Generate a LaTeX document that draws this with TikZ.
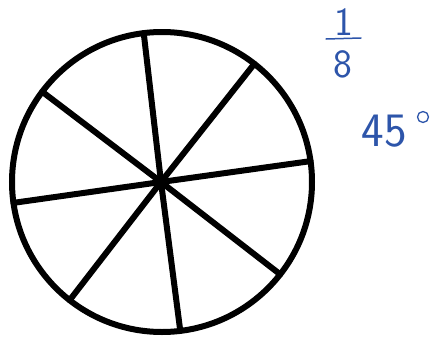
\documentclass[tikz,border=0pt]{standalone}
\usepackage{tikz}
\definecolor{ink}{RGB}{45,85,170}

\begin{document}
\begin{tikzpicture}[x=1pt,y=-1pt,line cap=round]
	\tikzstyle{rand}=[circle,draw,line width=6pt,minimum size=300pt,inner sep=0pt,outer sep=0pt];
	\tikzstyle{speiche}=[line width=6pt];
	\tikzstyle{schrift}=[ink,inner sep=0pt,font=\sffamily\fontsize{40}{40}\selectfont];
	\useasboundingbox (0,0) rectangle (432,338);
	%% wheel
	\coordinate (M) at (161,182);
	\node[rand] (K) at (162,182) {};
	\draw[speiche] (M) -- (K.97);
	\draw[speiche] (M) -- (K.52);
	\draw[speiche] (M) -- (K.8);
	\draw[speiche] (M) -- (K.-38);
	\draw[speiche] (M) -- (K.-83);
	\draw[speiche] (M) -- (K.-128);
	\draw[speiche] (M) -- (K.188);
	\draw[speiche] (M) -- (K.143);
	%% notes
	\node[schrift] (eins) at (344,22) {1};
	\node[schrift] (acht) at (343,64) {8};
	\coordinate (strichL) at (326,39);
	\coordinate (strichR) at (361,38);
	\draw[ink,line width=1.5pt] (strichL) -- (strichR);
	\node[schrift,font=\sffamily\fontsize{48}{48}\selectfont] (winkel) at (384,131) {45};
	\node[ink,circle,draw,line width=1.3pt,minimum size=11pt,inner sep=0pt] (grad) at (423,117) {};
\end{tikzpicture}
\end{document}
